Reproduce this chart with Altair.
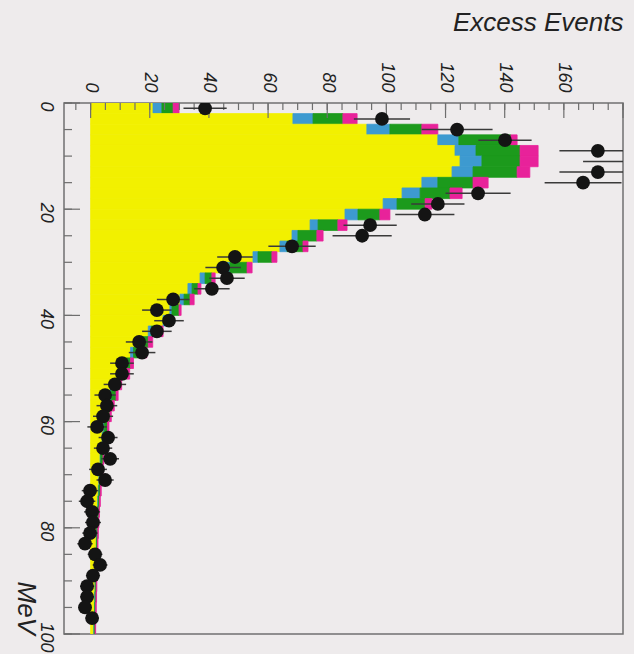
import altair as alt
import pandas as pd

# ---- data (bins of 2 MeV, 0..100 MeV) ----
bin_lo = list(range(0, 100, 2))

# cumulative right edges of the stacked components (Excess Events)
yellow_top = [21.1, 68.4, 93.4, 117.4, 123.2, 124.9, 122.2, 112.0, 105.3, 98.9,
              86.0, 74.2, 68.1, 64.0, 54.9, 45.4, 37.0, 32.9, 30.2, 26.8,
              24.5, 19.5, 15.5, 13.5, 10.5, 9.5, 7.5, 6.5, 5.5, 4.8,
              4.3, 3.9, 3.5, 3.2, 3.0, 2.8, 2.6, 2.4, 2.2, 2.1,
              2.0, 1.9, 1.8, 1.7, 1.6, 1.5, 1.4, 1.3, 1.2, 1.1]
blue_top = [24.1, 75.2, 101.2, 124.5, 130.3, 132.3, 129.3, 117.4, 111.4, 103.6,
            90.4, 76.9, 70.1, 66.4, 56.6, 47.1, 38.7, 34.3, 31.6, 27.5,
            25.5, 20.5, 16.5, 14.5, 11.2, 10.1, 8.0, 7.0, 5.9, 5.2,
            4.6, 4.2, 3.8, 3.4, 3.2, 3.0, 2.8, 2.6, 2.4, 2.2,
            2.1, 2.0, 1.9, 1.8, 1.7, 1.6, 1.5, 1.4, 1.3, 1.2]
green_top = [27.9, 85.3, 112.0, 142.1, 145.2, 145.2, 144.2, 129.3, 121.5, 113.1,
             97.8, 83.6, 76.5, 71.8, 61.3, 52.9, 41.0, 36.3, 33.6, 29.9,
             26.8, 23.0, 19.5, 17.5, 13.5, 12.2, 9.8, 8.6, 7.4, 6.5,
             5.7, 5.1, 4.6, 4.2, 3.9, 3.6, 3.3, 3.0, 2.8, 2.6,
             2.4, 2.3, 2.2, 2.1, 2.0, 1.9, 1.8, 1.7, 1.6, 1.5]
magenta_top = [29.9, 90.1, 117.4, 144.2, 151.3, 151.3, 148.5, 134.4, 125.6, 115.4,
               101.2, 86.7, 78.6, 73.5, 63.0, 54.6, 42.1, 37.3, 35.0, 30.6,
               27.5, 24.5, 21.0, 19.0, 14.5, 13.2, 10.5, 9.3, 8.0, 7.0,
               6.2, 5.5, 5.0, 4.5, 4.2, 3.9, 3.6, 3.3, 3.0, 2.8,
               2.6, 2.5, 2.4, 2.3, 2.2, 2.1, 2.0, 1.9, 1.8, 1.7]

# measured points and their errors (None = not drawn)
data_val = [38.7, 98.5, 123.9, 140.1, 171.5, 186.0, 171.5, 166.5, 131.0, 117.4,
            113.0, 94.5, 91.8, 68.1, 48.8, 44.8, 46.1, 41.0, 27.9, 22.4,
            26.5, 22.4, 16.4, 17.4, 10.6, 10.6, 8.2, 4.9, 5.5, 4.2,
            2.2, 5.9, 4.2, 6.6, 2.5, 4.9, -0.2, -1.2, 0.5, 0.8,
            -0.2, -1.9, 1.5, 3.2, 0.8, -1.2, -1.2, -1.9, 0.5, None]
data_err = [7.3, 9.5, 12.0, 9.0, 13.0, 19.5, 13.0, 13.0, 11.0, 9.0,
            10.0, 9.0, 10.0, 8.0, 6.0, 6.0, 6.0, 6.0, 5.5, 5.0,
            5.0, 5.0, 4.5, 4.5, 4.0, 4.0, 3.8, 3.6, 3.5, 3.4,
            3.3, 3.2, 3.1, 3.0, 3.0, 2.9, 2.8, 2.8, 2.7, 2.7,
            2.6, 2.6, 2.5, 2.5, 2.4, 2.4, 2.3, 2.3, 2.2, None]

mev_ticks_minor = list(range(0, 101, 5))
mev_ticks_major = list(range(0, 101, 20))
ev_ticks_minor = list(range(-5, 181, 5))
ev_ticks_major = list(range(0, 181, 20))

BIN_W = 2
comp_names = ["yellow", "blue", "green", "magenta"]
comp_colors = ["#f2f000", "#3d9ad0", "#1c9a1c", "#e8229a"]
BG = "#eeebec"

rows = []
tops = [yellow_top, blue_top, green_top, magenta_top]
for i, lo in enumerate(bin_lo):
    prev = 0.0
    for name, t in zip(comp_names, tops):
        rows.append({"lo": lo, "hi": lo + BIN_W, "x0": prev, "x1": t[i], "comp": name})
        prev = t[i]
stack_df = pd.DataFrame(rows)

pts = []
for lo, v, e in zip(bin_lo, data_val, data_err):
    if v is None:
        continue
    pts.append({"mev": lo + BIN_W / 2, "val": v, "elo": v - e, "ehi": v + e})
pts_df = pd.DataFrame(pts)

xscale = alt.Scale(domain=[-9, 180], nice=False, zero=False)
yscale = alt.Scale(domain=[0, 100], nice=False, zero=False, reverse=True)

FONT = "Liberation Sans"

xaxis = alt.Axis(orient="top", values=ev_ticks_major[:-1], ticks=False, domain=False, grid=False,
                 labelAngle=90, labelAlign="right", labelBaseline="middle", labelPadding=11,
                 labelFont=FONT, labelFontSize=18, labelFontStyle="italic", labelColor="#222",
                 title="Excess Events", titleFont=FONT, titleFontSize=26, titleFontStyle="italic",
                 titleFontWeight="normal", titleColor="#222", titleAngle=0, titleAlign="right",
                 titleBaseline="alphabetic", titleX=559, titleY=-73)
yaxis = alt.Axis(orient="left", values=mev_ticks_major, ticks=False, domain=False, grid=False,
                 labelAngle=90, labelAlign="center", labelBaseline="top", labelPadding=10,
                 labelOffset=3,
                 labelFont=FONT, labelFontSize=18, labelFontStyle="italic", labelColor="#222",
                 title="MeV", titleFont=FONT, titleFontSize=26, titleFontStyle="italic",
                 titleFontWeight="normal", titleColor="#222", titleAngle=90, titleAlign="left",
                 titleBaseline="middle", titleX=-39, titleY=478)

comp_scale = alt.Scale(domain=comp_names, range=comp_colors)
bars = alt.Chart(stack_df).mark_rect(clip=True, strokeWidth=0.8).encode(
    x=alt.X("x0:Q", scale=xscale, axis=xaxis),
    x2="x1:Q",
    y=alt.Y("lo:Q", scale=yscale, axis=yaxis),
    y2="hi:Q",
    color=alt.Color("comp:N", scale=comp_scale, legend=None),
    stroke=alt.Stroke("comp:N", scale=comp_scale, legend=None),
)

errs = alt.Chart(pts_df).mark_rule(clip=True, color="#3a3a3a", strokeWidth=1.5).encode(
    x=alt.X("elo:Q", scale=xscale), x2="ehi:Q",
    y=alt.Y("mev:Q", scale=yscale),
)

dots = alt.Chart(pts_df).mark_circle(clip=True, size=190, color="#141414", opacity=1).encode(
    x=alt.X("val:Q", scale=xscale),
    y=alt.Y("mev:Q", scale=yscale),
)

tick_color = "#6e6e6e"
ymin = alt.Chart(pd.DataFrame({"v": mev_ticks_minor})).mark_rule(color=tick_color, strokeWidth=1.2).encode(
    y=alt.Y("v:Q", scale=yscale), x=alt.value(0), x2=alt.value(8))
ymaj = alt.Chart(pd.DataFrame({"v": mev_ticks_major})).mark_rule(color=tick_color, strokeWidth=1.2).encode(
    y=alt.Y("v:Q", scale=yscale), x=alt.value(0), x2=alt.value(16))
xmin = alt.Chart(pd.DataFrame({"v": ev_ticks_minor})).mark_rule(color=tick_color, strokeWidth=1.2).encode(
    x=alt.X("v:Q", scale=xscale), y=alt.value(0), y2=alt.value(7))
xmaj = alt.Chart(pd.DataFrame({"v": ev_ticks_major})).mark_rule(color=tick_color, strokeWidth=1.2).encode(
    x=alt.X("v:Q", scale=xscale), y=alt.value(0), y2=alt.value(15))

chart = alt.layer(bars, ymin, ymaj, xmin, xmaj, errs, dots).properties(
    width=559, height=531,
    autosize=alt.AutoSizeParams(type="none"),
    padding={"left": 64, "top": 103, "right": 11, "bottom": 20},
    background=BG,
).configure_view(stroke="#707070", strokeWidth=1.5, fill=BG)

chart.save("out.html", embed_options={"renderer": "svg", "actions": False})
